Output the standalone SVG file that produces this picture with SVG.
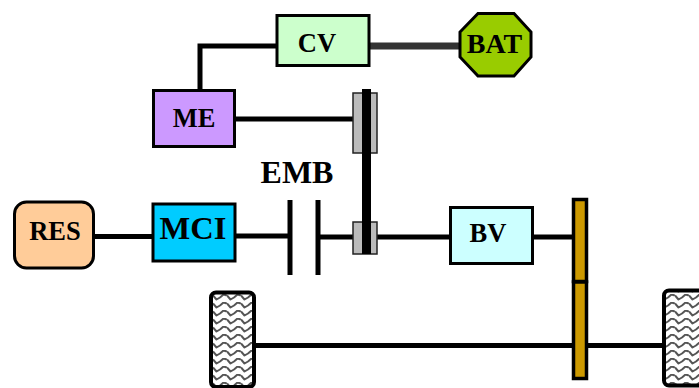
<svg xmlns="http://www.w3.org/2000/svg" width="699" height="388" viewBox="0 0 699 388">
<style>
text{font-family:"Liberation Serif","Times New Roman",serif;font-weight:bold;fill:#000;text-anchor:middle}
.n{stroke:#000;stroke-width:3}
.c{fill:none;stroke:#000;stroke-width:5}
.t{font-size:26.500px}
.w{fill:url(#wavy);stroke:#000;stroke-width:4}
.g{fill:#bbb;stroke:#222;stroke-width:1.5}
.gear{fill:#cc9900;stroke:#000;stroke-width:3.500}
</style>
<defs>
<pattern id="wavy" width="14" height="8" patternUnits="userSpaceOnUse" x="213" y="294">
<rect width="14" height="8" fill="#fff"/>
<path d="M0 1.500L3.500 5.500L7 3.500L10.500 .5L14 1.500" fill="none" stroke="#555" stroke-width="2" stroke-linejoin="round"/>
</pattern>
</defs>
<g id="connectors">
<path class="c" d="M200 90V46H277"/>
<path d="M370 46H461" fill="none" stroke="#333" stroke-width="7"/>
<path class="c" d="M234 119H353"/>
<path class="c" d="M92 236.500H153"/>
<path class="c" d="M235 236H289"/>
<path class="c" d="M318 237H353"/>
<path class="c" d="M377 237H451"/>
<path class="c" d="M532 237H574"/>
<path class="c" d="M254 345.500H664"/>
<path class="c" d="M290 200V275"/>
<path class="c" d="M318 200V275"/>
</g>
<g id="CV"><rect class="n" x="277" y="15.500" width="92" height="50" fill="#ccffcc"/><text class="t" x="317" y="52">CV</text></g>
<g id="BAT"><polygon class="n" points="478,13.500 514,13.500 531,32 531,57 514,76 478,76 460,57 460,32" fill="#99cc00"/><text x="494.500" y="53" font-size="28">BAT</text></g>
<g id="ME"><rect class="n" x="153.500" y="90.500" width="81" height="56" fill="#cc99ff"/><text class="t" x="194" y="126.500">ME</text></g>
<g id="RES"><rect class="n" x="14.500" y="202" width="79" height="66" rx="12" fill="#ffcc99"/><text class="t" x="55" y="239.500">RES</text></g>
<g id="MCI"><rect class="n" x="153" y="204" width="82" height="57" fill="#00ccff"/><text x="193" y="239" font-size="32.500">MCI</text></g>
<g id="EMB"><text x="297" y="183" font-size="32">EMB</text></g>
<g id="BV"><rect class="n" x="450.500" y="207.500" width="82" height="56" fill="#ccffff"/><text class="t" x="488" y="242">BV</text></g>
<g id="pulley-top"><rect class="g" x="353" y="93" width="24" height="60"/></g>
<g id="pulley-bottom"><rect class="g" x="353" y="222" width="24" height="32"/></g>
<g id="belt"><rect x="362" y="89" width="9" height="165" fill="#000"/></g>
<g id="gear-top"><rect class="gear" x="573.500" y="199.500" width="13" height="82"/></g>
<g id="gear-bottom"><rect class="gear" x="573.500" y="282" width="13" height="96.500"/></g>
<g id="wheel-left"><rect class="w" x="211" y="292.500" width="43" height="94.500" rx="5"/></g>
<g id="wheel-right"><rect class="w" x="664" y="290.500" width="43" height="95" rx="5"/></g>
</svg>
